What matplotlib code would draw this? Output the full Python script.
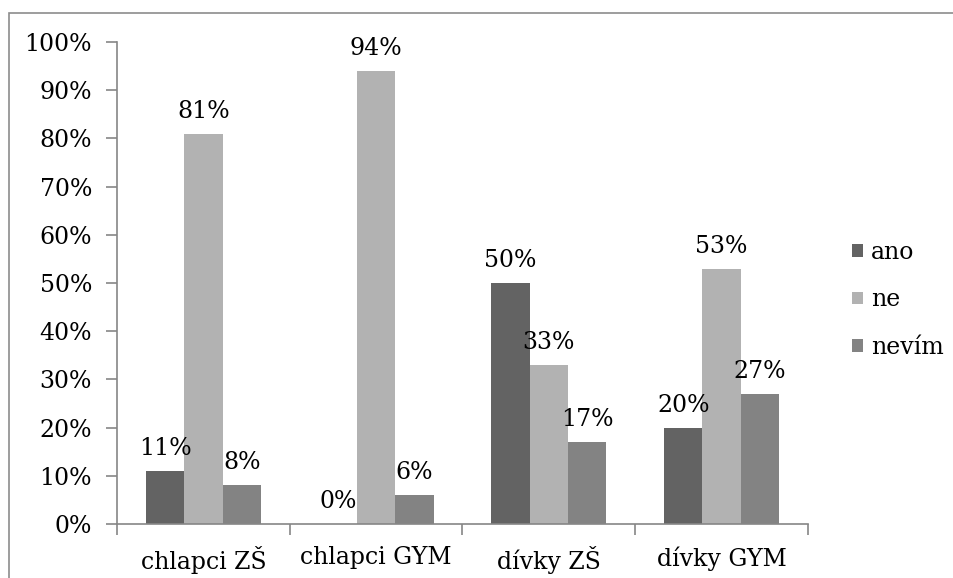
import matplotlib.pyplot as plt
from matplotlib.patches import Rectangle
from matplotlib.ticker import FixedLocator, NullFormatter
import numpy as np

plt.rcParams['font.family'] = ['DejaVu Serif']

categories = ["chlapci ZŠ", "chlapci GYM", "dívky ZŠ", "dívky GYM"]
series_names = ["ano", "ne", "nevím"]
ano = [11, 0, 50, 20]
ne = [81, 94, 33, 53]
nevim = [8, 6, 17, 27]
colors = ["#636363", "#b2b2b2", "#838383"]

fig = plt.figure(figsize=(9.54, 5.78), dpi=100)
ax = fig.add_axes([0.1226, 0.0934, 0.7244, 0.8339])

# outer chart border (cropped at right/bottom like the original)
fig.patches.append(Rectangle((9 / 954, -0.1), 1.2, 1.1 - 13 / 578,
                             transform=fig.transFigure, fill=False,
                             edgecolor="#8c8c8c", linewidth=1.2))

x = np.arange(len(categories))
w = 1 / 4.5
for i, (vals, name) in enumerate(zip([ano, ne, nevim], series_names)):
    pos = x + (i - 1) * w
    ax.bar(pos, vals, width=w, color=colors[i], label=name)
    for p, v in zip(pos, vals):
        ax.annotate(f"{v}%", (p, v), xytext=(0, 11.5), textcoords="offset points",
                    ha="center", va="baseline", fontsize=17)

ax.set_xlim(-0.5, len(categories) - 0.5)
ax.set_ylim(0, 100)
ax.set_yticks(range(0, 101, 10))
ax.set_yticklabels([f"{t}%" for t in range(0, 101, 10)], fontsize=17)
ax.set_xticks(x)
ax.set_xticklabels(categories, fontsize=17)
ax.tick_params(axis="x", length=0, pad=16)
ax.xaxis.set_minor_locator(FixedLocator(np.arange(-0.5, len(categories), 1)))
ax.xaxis.set_minor_formatter(NullFormatter())
ax.tick_params(axis="x", which="minor", length=8, color="#868686", width=1.2)
ax.tick_params(axis="y", length=8, color="#868686", width=1.2, pad=10)

for s in ["top", "right"]:
    ax.spines[s].set_visible(False)
for s in ["left", "bottom"]:
    ax.spines[s].set_color("#868686")
    ax.spines[s].set_linewidth(1.2)

leg = ax.legend(loc="center left", bbox_to_anchor=(1.05, 0.465), frameon=False,
                fontsize=17, handlelength=0.45, handleheight=0.45,
                handletextpad=0.35, labelspacing=1.05, borderaxespad=0.0)

fig.savefig("out.png", dpi=100)
